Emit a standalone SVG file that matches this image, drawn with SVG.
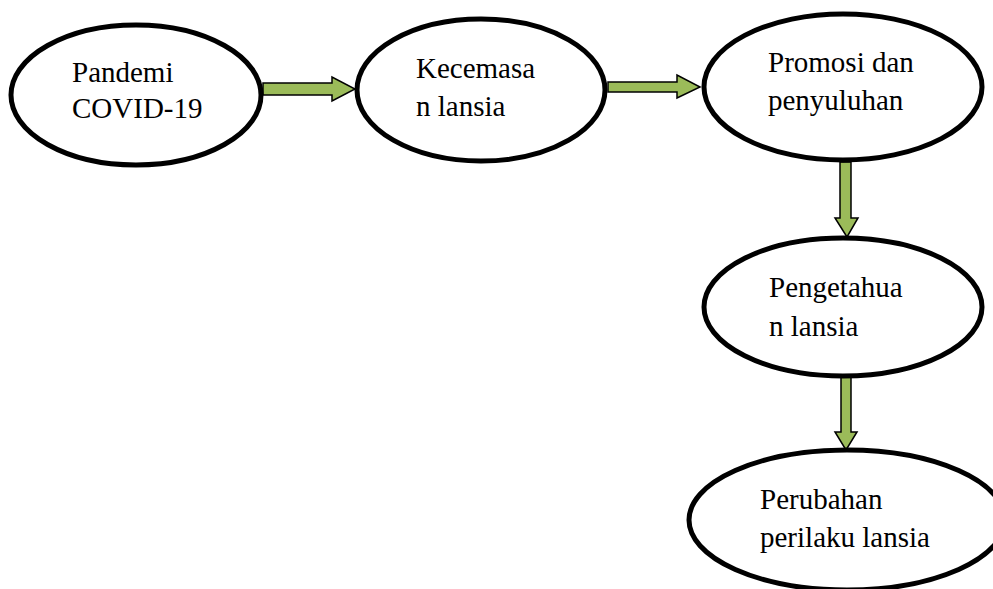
<svg xmlns="http://www.w3.org/2000/svg" width="993" height="589" viewBox="0 0 993 589">
<style>
.node{fill:#fff;stroke:#000;stroke-width:5}
.arrow{fill:#9BBB59;stroke:#000;stroke-width:1.5;stroke-linejoin:miter}
.t{font-family:'Liberation Serif','DejaVu Serif',serif;font-size:29px;fill:#000}
</style>
<rect width="993" height="589" fill="#fff"/>
<g id="connectors">
<polygon class="arrow" points="263,83 332,83 332,77 355,89 332,101 332,95 263,95"/>
<polygon class="arrow" points="608,82 677,82 677,75 700,87 677,98 677,92 608,92"/>
<polygon class="arrow" points="840,162 851,162 851,218 858,218 847,237 835,218 840,218"/>
<polygon class="arrow" points="841,377 851,377 851,432 857,432 846,450 835,432 841,432"/>
</g>
<g id="n1">
<ellipse class="node" cx="136" cy="95" rx="125" ry="70"/>
<text class="t" x="72" y="82">Pandemi</text>
<text class="t" x="72" y="118">COVID-19</text>
</g>
<g id="n2">
<ellipse class="node" cx="481" cy="90" rx="124" ry="71"/>
<text class="t" x="416" y="78">Kecemasa</text>
<text class="t" x="416" y="116">n lansia</text>
</g>
<g id="n3">
<ellipse class="node" cx="843" cy="87" rx="139" ry="73"/>
<text class="t" x="768" y="72">Promosi dan</text>
<text class="t" x="768" y="110">penyuluhan</text>
</g>
<g id="n4">
<ellipse class="node" cx="843" cy="307" rx="139" ry="69"/>
<text class="t" x="769" y="297">Pengetahua</text>
<text class="t" x="769" y="336">n lansia</text>
</g>
<g id="n5">
<ellipse class="node" cx="847" cy="520" rx="158" ry="70"/>
<text class="t" x="760" y="509">Perubahan</text>
<text class="t" x="760" y="547">perilaku lansia</text>
</g>
</svg>
